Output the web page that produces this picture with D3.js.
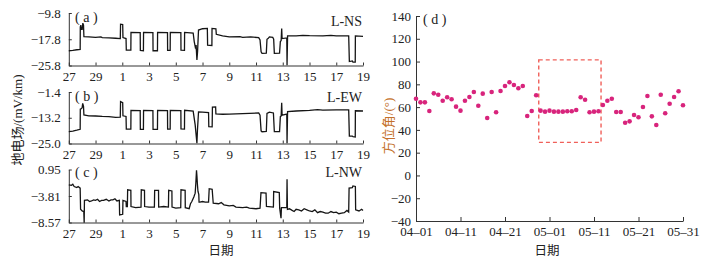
<!DOCTYPE html>
<html><head><meta charset="utf-8">
<script src="https://cdn.jsdelivr.net/npm/d3@7"></script>
<style>
body{margin:0;background:#fff}
svg text{font-family:"Liberation Serif","Times New Roman","Noto Sans CJK SC",serif;fill:#222}
</style>
</head><body>
<svg id="c" width="724" height="258"></svg>
<script>
// ---------- left panels: time axis (days since 27 Apr) ----------
const leftDays = [0, 2, 4, 6, 8, 10, 12, 14, 16, 18, 20, 22];
const leftDayLabels = ["27", "29", "1", "3", "5", "7", "9", "11", "13", "15", "17", "19"];

const nsTicks = [-9.8, -17.8, -25.8];
const ewTicks = [-1.4, -13.2, -25.0];
const nwTicks = [0.95, -3.81, -8.57];
const nsTickLabels = ["\u22129.8", "\u221217.8", "\u221225.8"];
const ewTickLabels = ["\u22121.4", "\u221213.2", "\u221225.0"];
const nwTickLabels = ["0.95", "\u22123.81", "\u22128.57"];

// [day, value] – L-NS
const nsSeries = [[0,-21.3],[0.3,-21.2],[0.6,-21.0],[0.85,-20.9],
 [0.86,-14.0],[0.9,-13.5],[0.93,-14.8],[1.0,-14.8],[1.05,-12.9],[1.1,-13.5],[1.13,-17.0],
 [1.5,-17.1],[2.0,-17.2],[2.4,-17.1],[2.5,-17.3],[3.0,-17.4],[3.5,-17.5],[3.85,-17.6],
 [3.87,-13.2],[4.03,-13.3],[4.05,-17.3],[4.28,-17.6],
 [4.30,-21.1],[4.64,-21.1],[4.65,-15.7],[5.34,-15.8],
 [5.35,-21.2],[5.58,-21.3],[5.59,-15.7],[6.29,-15.8],
 [6.30,-21.3],[6.63,-21.3],[6.64,-15.7],[7.38,-15.8],
 [7.39,-21.2],[7.58,-21.2],[7.59,-15.7],[8.38,-15.8],
 [8.39,-21.1],[8.65,-21.2],[8.66,-15.7],[9.30,-15.9],
 [9.38,-18.5],[9.46,-20.2],[9.52,-19.6],[9.58,-24.1],[9.63,-21.5],[9.70,-15.0],
 [10.0,-14.6],[10.36,-14.5],[10.38,-19.6],[10.70,-19.7],[10.71,-14.5],[11.0,-14.6],
 [11.03,-16.3],[11.5,-16.8],[12,-17.1],[12.8,-17.0],[13,-17.2],[13.6,-17.1],[14.2,-17.3],
 [14.3,-18.0],[14.38,-21.6],[14.45,-22.1],[14.77,-22.0],[14.82,-17.8],[14.9,-17.6],[15.0,-17.1],[15.25,-17.2],[15.32,-17.8],
 [15.37,-22.1],[15.76,-22.0],[15.82,-18.5],[15.88,-18.2],[15.92,-14.5],[15.95,-17.6],[16.3,-17.4],[16.32,-25.7],[16.36,-16.8],
 [17,-16.8],[17.5,-16.6],[18,-16.7],[19,-16.8],[19.6,-16.6],[20,-16.8],[20.93,-16.8],
 [20.98,-24.6],[21.2,-24.4],[21.25,-24.8],[21.42,-24.8],[21.43,-16.8],[22.0,-16.9]];

// L-EW
const ewSeries = [[0,-19.6],[0.3,-19.3],[0.6,-18.9],[0.85,-18.5],
 [0.86,-9.3],[0.95,-9.0],[1.0,-8.5],[1.04,-6.6],[1.1,-8.0],[1.13,-11.9],[1.5,-12.3],[2.0,-12.4],[2.5,-12.6],[3.0,-12.7],[3.5,-13.0],[3.85,-12.9],
 [3.87,-5.8],[4.03,-6.3],[4.05,-12.3],[4.28,-12.6],
 [4.30,-18.4],[4.64,-18.4],[4.65,-9.8],[5.34,-9.9],
 [5.35,-18.5],[5.58,-18.5],[5.59,-9.8],[6.29,-9.9],
 [6.30,-18.5],[6.63,-18.5],[6.64,-9.8],[7.38,-9.9],
 [7.39,-18.4],[7.58,-18.4],[7.59,-9.8],[8.38,-9.9],
 [8.39,-18.3],[8.65,-18.4],[8.66,-9.8],[9.30,-10.2],
 [9.45,-16.5],[9.58,-24.9],[9.62,-19.0],[9.70,-10.5],[10.0,-10.6],[10.45,-10.8],
 [10.47,-17.3],[10.72,-17.4],[10.74,-8.3],[10.98,-8.2],[11.0,-11.4],[11.5,-11.6],[12,-11.5],[13,-11.3],[14.2,-11.0],
 [14.3,-12.0],[14.38,-19.2],[14.45,-19.6],[14.77,-19.5],[14.82,-11.2],[15.0,-10.6],[15.3,-11.0],
 [15.37,-19.6],[15.76,-19.6],[15.82,-12.7],[15.88,-12.4],[15.92,-6.3],[15.95,-12.0],[16.3,-11.5],[16.32,-24.9],[16.36,-10.4],
 [17,-10.1],[18,-9.8],[18.6,-9.5],[19,-9.7],[20,-9.6],[20.93,-9.6],
 [20.98,-21.6],[21.2,-21.6],[21.25,-21.9],[21.42,-22.0],[21.43,-10.0],[22.0,-10.1]];

// L-NW
const nwSeries = [[0,-1.8],[0.2,-1.9],[0.3,-1.7],[0.4,-2.1],[0.6,-2.3],[0.7,-2.1],[0.85,-2.4],[0.88,-6.2],[1.0,-6.5],[1.12,-6.6],[1.15,-8.6],[1.17,-4.6],
 [1.4,-4.5],[1.55,-4.8],[1.7,-4.7],[1.85,-4.5],[2.0,-4.6],[2.15,-4.4],[2.3,-4.8],[2.45,-4.6],[2.6,-4.6],[2.8,-4.4],[3.0,-4.7],[3.15,-4.5],[3.3,-4.5],[3.45,-4.3],[3.6,-4.7],[3.78,-4.6],
 [3.80,-7.2],[4.03,-7.1],[4.05,-4.6],[4.28,-4.8],[4.30,-5.7],[4.38,-5.7],
 [4.40,-2.7],[4.64,-2.8],[4.65,-5.7],[5.0,-5.9],[5.40,-5.8],
 [5.42,-2.7],[5.66,-2.8],[5.67,-5.7],[6.0,-5.8],[6.40,-5.8],
 [6.42,-2.8],[6.71,-2.8],[6.72,-5.8],[7.1,-5.7],[7.45,-5.8],
 [7.47,-2.8],[7.71,-2.9],[7.72,-5.8],[8.0,-6.0],[8.37,-5.9],
 [8.39,-2.7],[8.70,-2.8],[8.71,-5.9],[9.0,-6.1],[9.1,-5.2],[9.2,-4.8],[9.35,-4.0],[9.45,-3.3],[9.5,-1.5],[9.55,0.8],[9.58,-0.2],[9.62,-1.8],[9.66,-3.0],[9.72,-3.5],[9.74,-4.9],
 [9.8,-4.9],[10.0,-4.8],[10.2,-4.9],[10.45,-4.9],
 [10.5,-2.5],[10.72,-2.6],[10.8,-5.1],[11.2,-5.2],[11.4,-5.0],[11.6,-5.4],[12.0,-5.6],[12.3,-5.5],[12.5,-5.8],[13.0,-5.9],[13.3,-5.8],[13.5,-6.0],[14.0,-6.1],[14.3,-6.0],
 [14.37,-3.2],[14.75,-3.3],[14.78,-5.7],[15.3,-5.8],[15.32,-3.0],[15.74,-3.2],[15.77,-6.0],[15.87,-7.8],[15.9,-5.9],[16.3,-5.9],[16.32,-0.8],[16.35,-6.2],
 [16.5,-6.1],[16.7,-6.4],[16.85,-6.6],[17.0,-6.2],[17.2,-6.3],[17.4,-6.5],[17.6,-6.1],[17.8,-6.3],[18.0,-6.5],[18.2,-6.6],[18.4,-6.3],[18.6,-6.8],[18.8,-6.6],[19.0,-6.7],[19.2,-6.9],[19.4,-6.9],[19.6,-6.6],[19.8,-6.8],[20.0,-6.7],[20.2,-7.0],[20.4,-6.9],[20.6,-6.8],[20.8,-6.4],[20.93,-6.7],
 [20.96,-2.4],[21.2,-2.3],[21.25,-2.0],[21.43,-2.1],[21.45,-6.3],[21.7,-6.5],[21.9,-6.2],[22.0,-6.4]];

// ---------- right panel ----------
const azStart = "2015-04-01";
const azimuth = [67.4,64.2,64.2,56.6,72.1,70.9,65.6,68.6,66.9,60.4,
 56.9,65.6,68.9,73.3,61.2,71.8,50.4,73.3,55.5,74.2,
 78.5,81.8,79.4,76.5,78.5,52.2,56.6,70.4,56.9,56.0,
 56.9,56.0,56.0,56.0,56.3,56.3,57.5,68.6,66.5,55.5,
 56.0,56.3,61.9,65.6,67.4,55.7,55.7,46.3,47.5,53.1,
 51.1,60.1,69.8,51.9,44.3,70.9,54.6,63.0,68.9,73.9,61.6];
const azDateTicks = ["2015-04-01","2015-04-11","2015-04-21","2015-05-01","2015-05-11","2015-05-21","2015-05-31"];
const azDateLabels = ["04\u201301","04\u201311","04\u201321","05\u201301","05\u201311","05\u201321","05\u201331"];
const azTicks = [-40,-20,0,20,40,60,80,100,120,140];
const azTickLabels = ["\u221240","\u221220","0","20","40","60","80","100","120","140"];
const boxDays = [27.6, 41.6];
const boxValues = [29, 101.5];

const svg = d3.select("#c");
const FS = 13;

// ---------- draw left ----------
const x = d3.scaleLinear().domain([0, 22]).range([68.8, 363]);
const panels = [
  {tag:"( a )", name:"L-NS", data:nsSeries, ticks:nsTicks, labels:nsTickLabels, range:[65.5,13], tagY:22, nameY:26},
  {tag:"( b )", name:"L-EW", data:ewSeries, ticks:ewTicks, labels:ewTickLabels, range:[143.5,92], tagY:101, nameY:102},
  {tag:"( c )", name:"L-NW", data:nwSeries, ticks:nwTicks, labels:nwTickLabels, range:[222.5,169.5], tagY:177, nameY:177}
];
panels.forEach(p => {
  const y = d3.scaleLinear().domain([d3.min(p.ticks), d3.max(p.ticks)]).range(p.range);
  const gx = svg.append("g").attr("transform", `translate(0,${p.range[0]})`)
    .call(d3.axisBottom(x).tickValues(leftDays).tickFormat((d,i)=>leftDayLabels[i]).tickSizeInner(-3).tickSizeOuter(0).tickPadding(6));
  const gy = svg.append("g").attr("transform", `translate(${x.range()[0]},0)`)
    .call(d3.axisLeft(y).tickValues(p.ticks).tickFormat((d,i)=>p.labels[i]).tickSizeInner(-3).tickSizeOuter(0).tickPadding(8));
  [gx, gy].forEach(g => {
    g.selectAll("path,line").attr("stroke", "#333");
    g.selectAll("text").attr("font-size", FS).attr("fill", "#222");
  });
  svg.append("path").datum(p.data)
    .attr("fill", "none").attr("stroke", "#151515").attr("stroke-width", 1.3)
    .attr("d", d3.line().x(d => x(d[0])).y(d => y(d[1])));
  svg.append("text").attr("x", 75).attr("y", p.tagY).attr("font-size", 14).text(p.tag);
  svg.append("text").attr("x", 362).attr("y", p.nameY).attr("text-anchor", "end").attr("font-size", 14).text(p.name);
});
svg.append("text").attr("transform", "translate(22,120) rotate(-90)").attr("text-anchor", "middle")
  .attr("font-size", 13).text("地电场/(mV/km)");
svg.append("text").attr("x", 221).attr("y", 255).attr("text-anchor", "middle").attr("font-size", 12.5)
  .style("font-family", "'Noto Sans CJK SC'").text("日期");

// ---------- draw right ----------
const parse = d3.utcParse("%Y-%m-%d");
const t0 = parse(azStart);
const xd = d3.scaleUtc().domain([parse(azDateTicks[0]), parse(azDateTicks[azDateTicks.length-1])]).range([416, 683]);
const yd = d3.scaleLinear().domain([-40, 140]).range([221, 16]);
const gxd = svg.append("g").attr("transform", "translate(0,221)")
  .call(d3.axisBottom(xd).tickValues(azDateTicks.map(parse)).tickFormat((d,i)=>azDateLabels[i]).tickSizeInner(-4).tickSizeOuter(0).tickPadding(6));
const gyd = svg.append("g").attr("transform", "translate(416,0)")
  .call(d3.axisLeft(yd).tickValues(azTicks).tickFormat((d,i)=>azTickLabels[i]).tickSizeInner(-4).tickSizeOuter(0).tickPadding(5));
[gxd, gyd].forEach(g => {
  g.selectAll("path,line").attr("stroke", "#333");
  g.selectAll("text").attr("font-size", FS).attr("fill", "#222");
});
svg.append("rect")
  .attr("x", xd(d3.utcHour.offset(t0, boxDays[0]*24)))
  .attr("y", yd(boxValues[1]))
  .attr("width", xd(d3.utcHour.offset(t0, boxDays[1]*24)) - xd(d3.utcHour.offset(t0, boxDays[0]*24)))
  .attr("height", yd(boxValues[0]) - yd(boxValues[1]))
  .attr("fill", "none").attr("stroke", "#f0605a").attr("stroke-width", 1.4).attr("stroke-dasharray", "4,3");
svg.append("g").selectAll("circle").data(azimuth).join("circle")
  .attr("cx", (d,i) => xd(d3.utcDay.offset(t0, i)))
  .attr("cy", d => yd(d))
  .attr("r", 2.3).attr("fill", "#d8247c");
svg.append("text").attr("x", 423).attr("y", 24).attr("font-size", 14).text("( d )");
svg.append("text").attr("transform", "translate(393,126) rotate(-90)").attr("text-anchor", "middle")
  .attr("font-size", 13).style("fill", "#c4702a").text("方位角/(°)");
svg.append("text").attr("x", 547).attr("y", 255).attr("text-anchor", "middle").attr("font-size", 12.5)
  .style("font-family", "'Noto Sans CJK SC'").text("日期");
</script>
</body></html>
